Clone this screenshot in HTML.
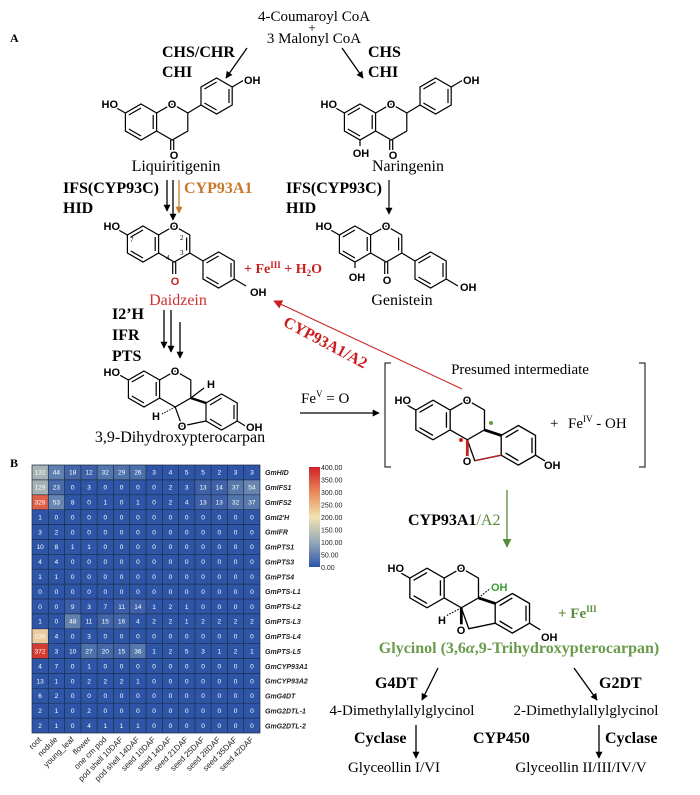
<!DOCTYPE html>
<html><head><meta charset="utf-8"><style>
html,body{margin:0;padding:0;background:#fff}
svg{display:block}
.s{font-family:"Liberation Serif",serif}
.b{font-weight:bold}
.at{font-family:"Liberation Sans",sans-serif;font-size:11px;font-weight:bold;stroke:#fff;stroke-width:3px;paint-order:stroke}
.n{font-family:"Liberation Sans",sans-serif;font-size:6.5px;fill:#fff;text-anchor:middle}
.g{font-family:"Liberation Sans",sans-serif;font-size:7px;font-weight:bold;font-style:italic;fill:#222}
.cl{font-family:"Liberation Sans",sans-serif;font-size:8px;text-anchor:end;fill:#222}
</style></head><body>
<svg width="700" height="795" viewBox="0 0 700 795" xmlns="http://www.w3.org/2000/svg">
<defs>
<marker id="ak" viewBox="0 0 10 10" refX="9" refY="5" markerWidth="7" markerHeight="7" orient="auto-start-reverse" markerUnits="userSpaceOnUse"><path d="M0,0L10,5L0,10z" fill="#000"/></marker>
<marker id="ao" viewBox="0 0 10 10" refX="9" refY="5" markerWidth="7" markerHeight="7" orient="auto" markerUnits="userSpaceOnUse"><path d="M0,0L10,5L0,10z" fill="#c8782a"/></marker>
<marker id="ar" viewBox="0 0 10 10" refX="9" refY="5" markerWidth="9" markerHeight="9" orient="auto" markerUnits="userSpaceOnUse"><path d="M0,0L10,5L0,10z" fill="#c81e1e"/></marker>
<marker id="ag" viewBox="0 0 10 10" refX="9" refY="5" markerWidth="9" markerHeight="9" orient="auto" markerUnits="userSpaceOnUse"><path d="M0,0L10,5L0,10z" fill="#5a8a3a"/></marker>
<linearGradient id="cb" x1="0" y1="0" x2="0" y2="1">
<stop offset="0" stop-color="#d0202a"/><stop offset="0.25" stop-color="#e88a5a"/><stop offset="0.5" stop-color="#f0e4b0"/><stop offset="0.75" stop-color="#96a8b8"/><stop offset="1" stop-color="#2c55a8"/></linearGradient>
<g id="ringA" fill="none" stroke="#000" stroke-width="1.2">
<path d="M0,-18L15.6,-9L15.6,9L0,18L-15.6,9L-15.6,-9Z"/>
<path d="M-12.2,-7L0,-14M12.2,-7L12.2,7M0,14L-12.2,7"/>
<path d="M-15.6,-9L-27,-15.5"/>
</g>
<g id="flav" fill="none" stroke="#000" stroke-width="1.2">
<use href="#ringA"/>
<path d="M15.6,-9L31.2,-18L46.8,-9L46.8,9L31.2,18L15.6,9"/>
<path d="M29.7,18L29.7,28M32.7,18L32.7,28"/>
<path d="M46.8,-9L60,-17"/>
<path d="M75.6,-44L91.2,-35L91.2,-17L75.6,-8L60,-17L60,-35Z"/>
<path d="M63.4,-33L75.6,-40M88,-33L88,-19M75.6,-12L63.4,-19"/>
<path d="M91.2,-35L103,-42"/>
</g>
<g id="iso" fill="none" stroke="#000" stroke-width="1.2">
<use href="#ringA"/>
<path d="M15.6,-9L31.2,-18L46.8,-9L46.8,9L31.2,18L15.6,9"/>
<path d="M43.6,-6.5L43.6,6.5"/>
<path d="M29.7,18L29.7,30M32.7,18L32.7,30"/>
<path d="M46.8,9L60,17"/>
<path d="M75.6,8L91.2,17L91.2,35L75.6,44L60,35L60,17Z"/>
<path d="M63.4,19L75.6,12M88,19L88,33M75.6,40L63.4,33"/>
<path d="M91.2,35L103,42"/>
</g>
<g id="ptc" fill="none" stroke="#000" stroke-width="1.2">
<use href="#ringA"/>
<path d="M15.6,-9L31.2,-18L46.8,-9L46.8,9L31.2,18L15.6,9"/>
<path d="M31.2,18L38,37L62,32"/>
<path d="M77.6,5L93.2,14L93.2,32L77.6,41L62,32L62,14Z"/>
<path d="M66,16L77.6,9M90,16L90,30M77.6,37L66,30"/>
<path d="M93.2,32L103,38"/>
</g>
</defs>

<text x="10" y="42" class="s b" font-size="12">A</text>
<text x="314" y="21" class="s" font-size="15" text-anchor="middle">4-Coumaroyl CoA</text>
<text x="312" y="32" class="s" font-size="13" text-anchor="middle">+</text>
<text x="314" y="43" class="s" font-size="15" text-anchor="middle">3 Malonyl CoA</text>
<text x="162" y="57" class="s b" font-size="16">CHS/CHR</text>
<text x="162" y="77" class="s b" font-size="16">CHI</text>
<text x="368" y="57" class="s b" font-size="16">CHS</text>
<text x="368" y="77" class="s b" font-size="16">CHI</text>
<line x1="247" y1="48" x2="226" y2="78" stroke="#000" stroke-width="1.3" marker-end="url(#ak)"/>
<line x1="342" y1="48" x2="363" y2="78" stroke="#000" stroke-width="1.3" marker-end="url(#ak)"/>

<use href="#flav" x="141" y="122"/>
<text x="118" y="108" class="at" text-anchor="end">HO</text>
<text x="172" y="108" class="at" text-anchor="middle">O</text>
<text x="174" y="159" class="at" text-anchor="middle">O</text>
<text x="244" y="84" class="at">OH</text>
<text x="176" y="171" class="s" font-size="16" text-anchor="middle">Liquiritigenin</text>
<use href="#flav" x="360" y="122"/>
<path d="M360,140L360,146" stroke="#000" stroke-width="1.2"/>
<text x="337" y="108" class="at" text-anchor="end">HO</text>
<text x="391" y="108" class="at" text-anchor="middle">O</text>
<text x="393" y="159" class="at" text-anchor="middle">O</text>
<text x="361" y="157" class="at" text-anchor="middle">OH</text>
<text x="463" y="84" class="at">OH</text>
<text x="408" y="171" class="s" font-size="16" text-anchor="middle">Naringenin</text>

<text x="63" y="193" class="s b" font-size="16">IFS(CYP93C)</text>
<text x="63" y="213" class="s b" font-size="16">HID</text>
<text x="184" y="193" class="s b" font-size="16" fill="#c8782a">CYP93A1</text>
<line x1="167" y1="180" x2="167" y2="211" stroke="#000" stroke-width="1.3" marker-end="url(#ak)"/>
<line x1="173" y1="180" x2="173" y2="220" stroke="#000" stroke-width="1.3" marker-end="url(#ak)"/>
<line x1="179" y1="180" x2="179" y2="213" stroke="#c8782a" stroke-width="1.3" marker-end="url(#ao)"/>
<text x="286" y="193" class="s b" font-size="16">IFS(CYP93C)</text>
<text x="286" y="213" class="s b" font-size="16">HID</text>
<line x1="389" y1="180" x2="389" y2="214" stroke="#000" stroke-width="1.2" marker-end="url(#ak)"/>

<use href="#iso" x="143" y="244"/>
<text x="120" y="230" class="at" text-anchor="end">HO</text>
<text x="174" y="230" class="at" text-anchor="middle">O</text>
<text x="175" y="285" class="at" text-anchor="middle" fill="#c81e1e">O</text>
<text x="250" y="296" class="at">OH</text>
<text x="130" y="242" font-family="Liberation Serif" font-size="7">7</text>
<text x="180" y="240" font-family="Liberation Serif" font-size="7">2</text>
<text x="180" y="255" font-family="Liberation Serif" font-size="7">3</text>
<text x="166" y="260" font-family="Liberation Serif" font-size="7">4</text>
<text x="244" y="273" class="s b" font-size="14" fill="#c81e1e">+ Fe<tspan font-size="9" dy="-5">III</tspan><tspan dy="5"> + H</tspan><tspan font-size="9" dy="3">2</tspan><tspan dy="-3">O</tspan></text>
<text x="178" y="305" class="s" font-size="16" text-anchor="middle" fill="#d03030">Daidzein</text>
<use href="#iso" x="355" y="244"/>
<path d="M355,262L355,268" stroke="#000" stroke-width="1.2"/>
<text x="332" y="230" class="at" text-anchor="end">HO</text>
<text x="386" y="230" class="at" text-anchor="middle">O</text>
<text x="387" y="284" class="at" text-anchor="middle">O</text>
<text x="357" y="281" class="at" text-anchor="middle">OH</text>
<text x="460" y="291" class="at">OH</text>
<text x="402" y="305" class="s" font-size="16" text-anchor="middle">Genistein</text>

<text x="112" y="319" class="s b" font-size="16">I2’H</text>
<text x="112" y="340" class="s b" font-size="16">IFR</text>
<text x="112" y="361" class="s b" font-size="16">PTS</text>
<line x1="164" y1="310" x2="164" y2="348" stroke="#000" stroke-width="1.3" marker-end="url(#ak)"/>
<line x1="171" y1="310" x2="171" y2="352" stroke="#000" stroke-width="1.3" marker-end="url(#ak)"/>
<line x1="180" y1="322" x2="180" y2="358" stroke="#000" stroke-width="1.3" marker-end="url(#ak)"/>

<line x1="462" y1="389" x2="274" y2="301" stroke="#c81e1e" stroke-width="1" marker-end="url(#ar)"/>
<text x="0" y="0" class="s b" font-size="16" fill="#c81e1e" text-anchor="middle" transform="translate(323,347) rotate(28)">CYP93A1/A2</text>

<use href="#ptc" x="144" y="389"/>
<path d="M190.8,398L204,388" stroke="#000" stroke-width="1.2"/>
<path d="M175.2,407L162,414" stroke="#000" stroke-width="1" stroke-dasharray="1.5,1.2"/>
<path d="M190.8,398L206,403" stroke="#000" stroke-width="2.5"/>
<text x="120" y="376" class="at" text-anchor="end">HO</text>
<text x="175" y="375" class="at" text-anchor="middle">O</text>
<text x="182" y="430" class="at" text-anchor="middle">O</text>
<text x="207" y="388" class="at">H</text>
<text x="152" y="420" class="at">H</text>
<text x="246" y="431" class="at">OH</text>
<text x="180" y="442" class="s" font-size="16" text-anchor="middle">3,9-Dihydroxypterocarpan</text>

<text x="301" y="403" class="s" font-size="15">Fe<tspan font-size="9" dy="-6">V</tspan><tspan dy="6"> = O</tspan></text>
<line x1="300" y1="413" x2="379" y2="413" stroke="#000" stroke-width="1.2" marker-end="url(#ak)"/>
<path d="M391,363L385,363L385,467L391,467M639,363L645,363L645,467L639,467" fill="none" stroke="#000" stroke-width="1"/>
<text x="520" y="374" class="s" font-size="15" text-anchor="middle">Presumed intermediate</text>
<g transform="translate(433,420) scale(1.1)">
<use href="#ptc"/>
<path d="M46.8,9L62,14" stroke="#000" stroke-width="2.5"/>
<path d="M31.2,18L31.2,33" stroke="#c81e1e" stroke-width="2.5"/>
<path d="M38,37L62,32" stroke="#c81e1e" stroke-width="1"/>
</g>
<circle cx="461" cy="440" r="2" fill="#d02020"/>
<circle cx="491" cy="423" r="2" fill="#5aa040"/>
<text x="411" y="404" class="at" text-anchor="end">HO</text>
<text x="467" y="404" class="at" text-anchor="middle">O</text>
<text x="467" y="465" class="at" text-anchor="middle">O</text>
<text x="544" y="469" class="at">OH</text>
<text x="550" y="428" class="s" font-size="15">+</text>
<text x="568" y="428" class="s" font-size="15">Fe<tspan font-size="9" dy="-6">IV</tspan><tspan dy="6"> - OH</tspan></text>

<line x1="507" y1="490" x2="507" y2="547" stroke="#5a8a3a" stroke-width="1.3" marker-end="url(#ag)"/>
<text x="408" y="525" class="s b" font-size="16">CYP93A1<tspan fill="#5a8a3a" font-weight="normal">/A2</tspan></text>

<g transform="translate(427,588) scale(1.1)">
<use href="#ptc"/>
<path d="M46.8,9L62,14" stroke="#000" stroke-width="2.5"/>
<path d="M31.2,18L31.2,33" stroke="#000" stroke-width="2.5"/>
<path d="M31.2,18L18,25" stroke="#000" stroke-width="1" stroke-dasharray="1.5,1.2"/>
<path d="M46.8,9L58,0" stroke="#000" stroke-width="1" stroke-dasharray="1.5,1.2"/>
</g>
<text x="404" y="572" class="at" text-anchor="end">HO</text>
<text x="461" y="572" class="at" text-anchor="middle">O</text>
<text x="461" y="634" class="at" text-anchor="middle">O</text>
<text x="438" y="624" class="at">H</text>
<text x="491" y="591" class="at" fill="#3aa030">OH</text>
<text x="541" y="641" class="at">OH</text>
<text x="558" y="618" class="s b" font-size="15" fill="#5a8a3a">+ Fe<tspan font-size="9" dy="-6">III</tspan></text>
<text x="519" y="653" class="s b" font-size="16" text-anchor="middle" fill="#6a9a4a">Glycinol (3,6<tspan font-style="italic">α</tspan>,9-Trihydroxypterocarpan)</text>

<text x="375" y="688" class="s b" font-size="16">G4DT</text>
<text x="599" y="688" class="s b" font-size="16">G2DT</text>
<line x1="438" y1="668" x2="422" y2="700" stroke="#000" stroke-width="1.3" marker-end="url(#ak)"/>
<line x1="574" y1="668" x2="597" y2="700" stroke="#000" stroke-width="1.3" marker-end="url(#ak)"/>
<text x="402" y="715" class="s" font-size="15" text-anchor="middle">4-Dimethylallylglycinol</text>
<text x="586" y="715" class="s" font-size="15" text-anchor="middle">2-Dimethylallylglycinol</text>
<text x="354" y="743" class="s b" font-size="16">Cyclase</text>
<text x="473" y="743" class="s b" font-size="16">CYP450</text>
<text x="605" y="743" class="s b" font-size="16">Cyclase</text>
<line x1="416" y1="725" x2="416" y2="758" stroke="#000" stroke-width="1.3" marker-end="url(#ak)"/>
<line x1="599" y1="725" x2="599" y2="758" stroke="#000" stroke-width="1.3" marker-end="url(#ak)"/>
<text x="394" y="772" class="s" font-size="15" text-anchor="middle">Glyceollin I/VI</text>
<text x="581" y="772" class="s" font-size="15" text-anchor="middle">Glyceollin II/III/IV/V</text>

<text x="10" y="467" class="s b" font-size="12">B</text>
<rect x="32" y="465" width="228" height="268" fill="#2f56a6"/>
<g>
<rect x="32" y="465" width="16.3" height="14.9" fill="#a9b3b3"/>
<rect x="48.3" y="465" width="16.3" height="14.9" fill="#5f80ae"/>
<rect x="64.6" y="465" width="16.3" height="14.9" fill="#4466a8"/>
<rect x="80.9" y="465" width="16.3" height="14.9" fill="#3d60a8"/>
<rect x="97.1" y="465" width="16.3" height="14.9" fill="#5275ac"/>
<rect x="113.4" y="465" width="16.3" height="14.9" fill="#4f72ab"/>
<rect x="129.7" y="465" width="16.3" height="14.9" fill="#4c70ab"/>
<rect x="32" y="479.9" width="16.3" height="14.9" fill="#a6b1b4"/>
<rect x="48.3" y="479.9" width="16.3" height="14.9" fill="#496ba9"/>
<rect x="194.9" y="479.9" width="16.3" height="14.9" fill="#3e61a8"/>
<rect x="211.1" y="479.9" width="16.3" height="14.9" fill="#3f62a8"/>
<rect x="227.4" y="479.9" width="16.3" height="14.9" fill="#5779ac"/>
<rect x="243.7" y="479.9" width="16.3" height="14.9" fill="#6887b0"/>
<rect x="32" y="494.8" width="16.3" height="14.9" fill="#df6047"/>
<rect x="48.3" y="494.8" width="16.3" height="14.9" fill="#6786af"/>
<rect x="194.9" y="494.8" width="16.3" height="14.9" fill="#3e61a8"/>
<rect x="211.1" y="494.8" width="16.3" height="14.9" fill="#3e61a8"/>
<rect x="227.4" y="494.8" width="16.3" height="14.9" fill="#5275ac"/>
<rect x="243.7" y="494.8" width="16.3" height="14.9" fill="#5779ac"/>
<rect x="64.6" y="599" width="16.3" height="14.9" fill="#3a5ea8"/>
<rect x="113.4" y="599" width="16.3" height="14.9" fill="#3b5fa8"/>
<rect x="129.7" y="599" width="16.3" height="14.9" fill="#3f62a8"/>
<rect x="64.6" y="613.9" width="16.3" height="14.9" fill="#6383ae"/>
<rect x="97.1" y="613.9" width="16.3" height="14.9" fill="#4164a8"/>
<rect x="113.4" y="613.9" width="16.3" height="14.9" fill="#4265a8"/>
<rect x="32" y="628.8" width="16.3" height="14.9" fill="#eccaa0"/>
<rect x="32" y="643.7" width="16.3" height="14.9" fill="#d43c32"/>
<rect x="80.9" y="643.7" width="16.3" height="14.9" fill="#4d71ab"/>
<rect x="97.1" y="643.7" width="16.3" height="14.9" fill="#4668a9"/>
<rect x="113.4" y="643.7" width="16.3" height="14.9" fill="#4164a8"/>
<rect x="129.7" y="643.7" width="16.3" height="14.9" fill="#5678ac"/>
</g>
<path stroke="#1c2b4a" stroke-width="0.7" fill="none" d="M32,465H260V733H32Z
M48.3,465V733M64.6,465V733M80.9,465V733M97.1,465V733M113.4,465V733M129.7,465V733M146,465V733M162.3,465V733M178.6,465V733M194.9,465V733M211.1,465V733M227.4,465V733M243.7,465V733
M32,479.9H260M32,494.8H260M32,509.7H260M32,524.6H260M32,539.4H260M32,554.3H260M32,569.2H260M32,584.1H260M32,599H260M32,613.9H260M32,628.8H260M32,643.7H260M32,658.6H260M32,673.4H260M32,688.3H260M32,703.2H260M32,718.1H260"/>
<g class="n">
<text y="474.7"><tspan x="40.1">132</tspan><tspan x="56.4">44</tspan><tspan x="72.7">18</tspan><tspan x="89">12</tspan><tspan x="105.3">32</tspan><tspan x="121.6">29</tspan><tspan x="137.9">26</tspan><tspan x="154.1">3</tspan><tspan x="170.4">4</tspan><tspan x="186.7">5</tspan><tspan x="203">5</tspan><tspan x="219.3">2</tspan><tspan x="235.6">3</tspan><tspan x="251.9">3</tspan></text>
<text y="489.6"><tspan x="40.1">129</tspan><tspan x="56.4">23</tspan><tspan x="72.7">0</tspan><tspan x="89">3</tspan><tspan x="105.3">0</tspan><tspan x="121.6">0</tspan><tspan x="137.9">0</tspan><tspan x="154.1">0</tspan><tspan x="170.4">2</tspan><tspan x="186.7">3</tspan><tspan x="203">13</tspan><tspan x="219.3">14</tspan><tspan x="235.6">37</tspan><tspan x="251.9">54</tspan></text>
<text y="504.5"><tspan x="40.1">328</tspan><tspan x="56.4">53</tspan><tspan x="72.7">8</tspan><tspan x="89">0</tspan><tspan x="105.3">1</tspan><tspan x="121.6">0</tspan><tspan x="137.9">1</tspan><tspan x="154.1">0</tspan><tspan x="170.4">2</tspan><tspan x="186.7">4</tspan><tspan x="203">13</tspan><tspan x="219.3">13</tspan><tspan x="235.6">32</tspan><tspan x="251.9">37</tspan></text>
<text y="519.4"><tspan x="40.1">1</tspan><tspan x="56.4">0</tspan><tspan x="72.7">0</tspan><tspan x="89">0</tspan><tspan x="105.3">0</tspan><tspan x="121.6">0</tspan><tspan x="137.9">0</tspan><tspan x="154.1">0</tspan><tspan x="170.4">0</tspan><tspan x="186.7">0</tspan><tspan x="203">0</tspan><tspan x="219.3">0</tspan><tspan x="235.6">0</tspan><tspan x="251.9">0</tspan></text>
<text y="534.3"><tspan x="40.1">3</tspan><tspan x="56.4">2</tspan><tspan x="72.7">0</tspan><tspan x="89">0</tspan><tspan x="105.3">0</tspan><tspan x="121.6">0</tspan><tspan x="137.9">0</tspan><tspan x="154.1">0</tspan><tspan x="170.4">0</tspan><tspan x="186.7">0</tspan><tspan x="203">0</tspan><tspan x="219.3">0</tspan><tspan x="235.6">0</tspan><tspan x="251.9">0</tspan></text>
<text y="549.2"><tspan x="40.1">10</tspan><tspan x="56.4">8</tspan><tspan x="72.7">1</tspan><tspan x="89">1</tspan><tspan x="105.3">0</tspan><tspan x="121.6">0</tspan><tspan x="137.9">0</tspan><tspan x="154.1">0</tspan><tspan x="170.4">0</tspan><tspan x="186.7">0</tspan><tspan x="203">0</tspan><tspan x="219.3">0</tspan><tspan x="235.6">0</tspan><tspan x="251.9">0</tspan></text>
<text y="564.1"><tspan x="40.1">4</tspan><tspan x="56.4">4</tspan><tspan x="72.7">0</tspan><tspan x="89">0</tspan><tspan x="105.3">0</tspan><tspan x="121.6">0</tspan><tspan x="137.9">0</tspan><tspan x="154.1">0</tspan><tspan x="170.4">0</tspan><tspan x="186.7">0</tspan><tspan x="203">0</tspan><tspan x="219.3">0</tspan><tspan x="235.6">0</tspan><tspan x="251.9">0</tspan></text>
<text y="579"><tspan x="40.1">1</tspan><tspan x="56.4">1</tspan><tspan x="72.7">0</tspan><tspan x="89">0</tspan><tspan x="105.3">0</tspan><tspan x="121.6">0</tspan><tspan x="137.9">0</tspan><tspan x="154.1">0</tspan><tspan x="170.4">0</tspan><tspan x="186.7">0</tspan><tspan x="203">0</tspan><tspan x="219.3">0</tspan><tspan x="235.6">0</tspan><tspan x="251.9">0</tspan></text>
<text y="593.9"><tspan x="40.1">0</tspan><tspan x="56.4">0</tspan><tspan x="72.7">0</tspan><tspan x="89">0</tspan><tspan x="105.3">0</tspan><tspan x="121.6">0</tspan><tspan x="137.9">0</tspan><tspan x="154.1">0</tspan><tspan x="170.4">0</tspan><tspan x="186.7">0</tspan><tspan x="203">0</tspan><tspan x="219.3">0</tspan><tspan x="235.6">0</tspan><tspan x="251.9">0</tspan></text>
<text y="608.8"><tspan x="40.1">0</tspan><tspan x="56.4">0</tspan><tspan x="72.7">9</tspan><tspan x="89">3</tspan><tspan x="105.3">7</tspan><tspan x="121.6">11</tspan><tspan x="137.9">14</tspan><tspan x="154.1">1</tspan><tspan x="170.4">2</tspan><tspan x="186.7">1</tspan><tspan x="203">0</tspan><tspan x="219.3">0</tspan><tspan x="235.6">0</tspan><tspan x="251.9">0</tspan></text>
<text y="623.7"><tspan x="40.1">1</tspan><tspan x="56.4">0</tspan><tspan x="72.7">48</tspan><tspan x="89">11</tspan><tspan x="105.3">15</tspan><tspan x="121.6">16</tspan><tspan x="137.9">4</tspan><tspan x="154.1">2</tspan><tspan x="170.4">2</tspan><tspan x="186.7">1</tspan><tspan x="203">2</tspan><tspan x="219.3">2</tspan><tspan x="235.6">2</tspan><tspan x="251.9">2</tspan></text>
<text y="638.6"><tspan x="40.1">238</tspan><tspan x="56.4">4</tspan><tspan x="72.7">0</tspan><tspan x="89">3</tspan><tspan x="105.3">0</tspan><tspan x="121.6">0</tspan><tspan x="137.9">0</tspan><tspan x="154.1">0</tspan><tspan x="170.4">0</tspan><tspan x="186.7">0</tspan><tspan x="203">0</tspan><tspan x="219.3">0</tspan><tspan x="235.6">0</tspan><tspan x="251.9">0</tspan></text>
<text y="653.5"><tspan x="40.1">372</tspan><tspan x="56.4">3</tspan><tspan x="72.7">10</tspan><tspan x="89">27</tspan><tspan x="105.3">20</tspan><tspan x="121.6">15</tspan><tspan x="137.9">36</tspan><tspan x="154.1">1</tspan><tspan x="170.4">2</tspan><tspan x="186.7">5</tspan><tspan x="203">3</tspan><tspan x="219.3">1</tspan><tspan x="235.6">2</tspan><tspan x="251.9">1</tspan></text>
<text y="668.4"><tspan x="40.1">4</tspan><tspan x="56.4">7</tspan><tspan x="72.7">0</tspan><tspan x="89">1</tspan><tspan x="105.3">0</tspan><tspan x="121.6">0</tspan><tspan x="137.9">0</tspan><tspan x="154.1">0</tspan><tspan x="170.4">0</tspan><tspan x="186.7">0</tspan><tspan x="203">0</tspan><tspan x="219.3">0</tspan><tspan x="235.6">0</tspan><tspan x="251.9">0</tspan></text>
<text y="683.3"><tspan x="40.1">13</tspan><tspan x="56.4">1</tspan><tspan x="72.7">0</tspan><tspan x="89">2</tspan><tspan x="105.3">2</tspan><tspan x="121.6">2</tspan><tspan x="137.9">1</tspan><tspan x="154.1">0</tspan><tspan x="170.4">0</tspan><tspan x="186.7">0</tspan><tspan x="203">0</tspan><tspan x="219.3">0</tspan><tspan x="235.6">0</tspan><tspan x="251.9">0</tspan></text>
<text y="698.2"><tspan x="40.1">6</tspan><tspan x="56.4">2</tspan><tspan x="72.7">0</tspan><tspan x="89">0</tspan><tspan x="105.3">0</tspan><tspan x="121.6">0</tspan><tspan x="137.9">0</tspan><tspan x="154.1">0</tspan><tspan x="170.4">0</tspan><tspan x="186.7">0</tspan><tspan x="203">0</tspan><tspan x="219.3">0</tspan><tspan x="235.6">0</tspan><tspan x="251.9">0</tspan></text>
<text y="713.1"><tspan x="40.1">2</tspan><tspan x="56.4">1</tspan><tspan x="72.7">0</tspan><tspan x="89">2</tspan><tspan x="105.3">0</tspan><tspan x="121.6">0</tspan><tspan x="137.9">0</tspan><tspan x="154.1">0</tspan><tspan x="170.4">0</tspan><tspan x="186.7">0</tspan><tspan x="203">0</tspan><tspan x="219.3">0</tspan><tspan x="235.6">0</tspan><tspan x="251.9">0</tspan></text>
<text y="728"><tspan x="40.1">2</tspan><tspan x="56.4">1</tspan><tspan x="72.7">0</tspan><tspan x="89">4</tspan><tspan x="105.3">1</tspan><tspan x="121.6">1</tspan><tspan x="137.9">1</tspan><tspan x="154.1">0</tspan><tspan x="170.4">0</tspan><tspan x="186.7">0</tspan><tspan x="203">0</tspan><tspan x="219.3">0</tspan><tspan x="235.6">0</tspan><tspan x="251.9">0</tspan></text>
</g>
<g class="g">
<text x="265" y="475">GmHID</text><text x="265" y="490">GmIFS1</text><text x="265" y="505">GmIFS2</text>
<text x="265" y="520">GmI2'H</text><text x="265" y="534.5">GmIFR</text><text x="265" y="549.5">GmPTS1</text>
<text x="265" y="564.5">GmPTS3</text><text x="265" y="579.5">GmPTS4</text><text x="265" y="594">GmPTS-L1</text>
<text x="265" y="609">GmPTS-L2</text><text x="265" y="624">GmPTS-L3</text><text x="265" y="639">GmPTS-L4</text>
<text x="265" y="654">GmPTS-L5</text><text x="265" y="669">GmCYP93A1</text><text x="265" y="683.5">GmCYP93A2</text>
<text x="265" y="698.5">GmG4DT</text><text x="265" y="713.5">GmG2DTL-1</text><text x="265" y="728.5">GmG2DTL-2</text>
</g>
<rect x="309" y="467" width="11" height="100" fill="url(#cb)"/>
<g font-family="Liberation Sans,sans-serif" font-size="7" fill="#222">
<text x="321" y="470">400.00</text><text x="321" y="482.5">350.00</text><text x="321" y="495">300.00</text>
<text x="321" y="507.5">250.00</text><text x="321" y="520">200.00</text><text x="321" y="532.5">150.00</text>
<text x="321" y="545">100.00</text><text x="321" y="557.5">50.00</text><text x="321" y="570">0.00</text>
</g>
<g class="cl">
<text transform="translate(42,740) rotate(-45)">root</text>
<text transform="translate(58,740) rotate(-45)">nodule</text>
<text transform="translate(74.5,740) rotate(-45)">young_leaf</text>
<text transform="translate(91,740) rotate(-45)">flower</text>
<text transform="translate(107,740) rotate(-45)">one cm pod</text>
<text transform="translate(123.5,740) rotate(-45)">pod shell 10DAF</text>
<text transform="translate(140,740) rotate(-45)">pod shell 14DAF</text>
<text transform="translate(156,740) rotate(-45)">seed 10DAF</text>
<text transform="translate(172,740) rotate(-45)">seed 14DAF</text>
<text transform="translate(188.5,740) rotate(-45)">seed 21DAF</text>
<text transform="translate(205,740) rotate(-45)">seed 25DAF</text>
<text transform="translate(221,740) rotate(-45)">seed 28DAF</text>
<text transform="translate(237.5,740) rotate(-45)">seed 35DAF</text>
<text transform="translate(254,740) rotate(-45)">seed 42DAF</text>
</g>
</svg>
</body></html>
